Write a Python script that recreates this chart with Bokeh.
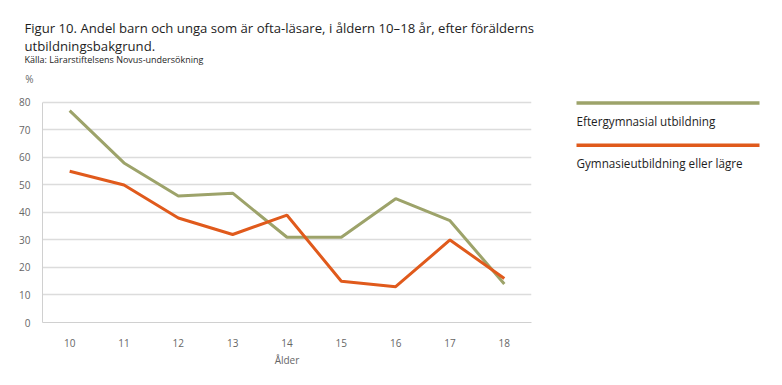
from bokeh.plotting import figure
from bokeh.layouts import column, row
from bokeh.models import FixedTicker, Range1d
from bokeh.core.properties import value
from bokeh.embed import file_html
from bokeh.resources import INLINE

ages = [10, 11, 12, 13, 14, 15, 16, 17, 18]
eftergymnasial = [77, 58, 46, 47, 31, 31, 45, 37, 14]
gymnasie = [55, 50, 38, 32, 39, 15, 13, 30, 16]
y_ticks = [0, 10, 20, 30, 40, 50, 60, 70, 80]

title1 = "Figur 10. Andel barn och unga som är ofta-läsare, i åldern 10–18 år, efter förälderns"
title2 = "utbildningsbakgrund."
source_text = "Källa: Lärarstiftelsens Novus-undersökning"
unit_text = "%"
series_names = ["Eftergymnasial utbildning", "Gymnasieutbildning eller lägre"]

GREEN = "#9da36a"
ORANGE = "#e05a1c"
FONT = "Open Sans"
TEXT = "#1e1e1e"
GREY = "#666666"

# layout (pixels)
HEADER_H = 92
ROW_H = 277
BOTTOM = 45
FRAME_H = ROW_H - BOTTOM          # frame height of the chart row (232)
TOP_PAD = 10                      # gap between frame top and the 80 gridline
Y_MAX = y_ticks[-1] * FRAME_H / (FRAME_H - TOP_PAD)


def blank(width, height, y_span=None, bottom=0):
    f = figure(width=width, height=height, output_backend="svg", toolbar_location=None,
               title_location=None, x_axis_location=None, y_axis_location=None,
               x_range=Range1d(0, width), y_range=Range1d(y_span or height, 0),
               min_border=0, min_border_left=0, min_border_right=0,
               min_border_top=0, min_border_bottom=bottom)
    f.grid.visible = False
    f.outline_line_color = None
    return f


# ---- header ----
header = blank(782, HEADER_H)
header.text(x=[24, 24], y=[27, 45], text=[title1, title2], text_font=value(FONT),
            text_font_size="13.15px", text_color=TEXT, text_baseline="alphabetic")
header.text(x=[24], y=[59], text=[source_text], text_font=value(FONT),
            text_font_size="9px", text_color=TEXT, text_baseline="alphabetic")
header.text(x=[29], y=[78], text=[unit_text], text_font=value(FONT),
            text_font_size="10px", text_color=GREY, text_align="center", text_baseline="middle")

# ---- main chart ----
p = figure(width=560, height=ROW_H, output_backend="svg", toolbar_location=None,
           title_location=None,
           x_range=Range1d(9.5, 18.5), y_range=Range1d(0, Y_MAX),
           min_border_left=42, min_border_right=29, min_border_top=0, min_border_bottom=BOTTOM)
p.outline_line_color = None

p.line(ages, eftergymnasial, line_color=GREEN, line_width=3)
p.line(ages, gymnasie, line_color=ORANGE, line_width=3)

p.xaxis.ticker = FixedTicker(ticks=ages)
p.yaxis.ticker = FixedTicker(ticks=y_ticks)
p.yaxis.bounds = (y_ticks[0], y_ticks[-1])
for ax in (p.xaxis[0], p.yaxis[0]):
    ax.major_tick_line_color = None
    ax.minor_tick_line_color = None
    ax.major_label_text_font = FONT
    ax.major_label_text_font_size = "10px"
    ax.major_label_text_color = GREY
    ax.axis_line_color = "#d0d0d0"
    ax.axis_line_width = 1
p.xaxis.major_label_standoff = 10
p.yaxis.major_label_standoff = 6
p.xaxis.axis_label = "Ålder"
p.xaxis.axis_label_text_font = FONT
p.xaxis.axis_label_text_font_size = "10px"
p.xaxis.axis_label_text_font_style = "normal"
p.xaxis.axis_label_text_color = GREY
p.xaxis.axis_label_standoff = 3
p.xgrid.grid_line_color = None
p.ygrid.grid_line_color = "#dcdcdc"
p.ygrid.grid_line_width = 1.5

# ---- legend ----
LW = 222
leg = blank(LW, ROW_H, y_span=FRAME_H, bottom=BOTTOM)
for i, (name, col) in enumerate(zip(series_names, [GREEN, ORANGE])):
    y0 = 10.7 + i * 42.6
    leg.line([16, 199], [y0, y0], line_color=col, line_width=3.5)
    leg.text(x=[16], y=[y0 + 18], text=[name], text_font=value(FONT),
             text_font_size="11.7px", text_color=TEXT, text_baseline="alphabetic")

layout = column(header, row(p, leg, spacing=0), spacing=0)
open("out.html", "w").write(file_html(layout, INLINE))
